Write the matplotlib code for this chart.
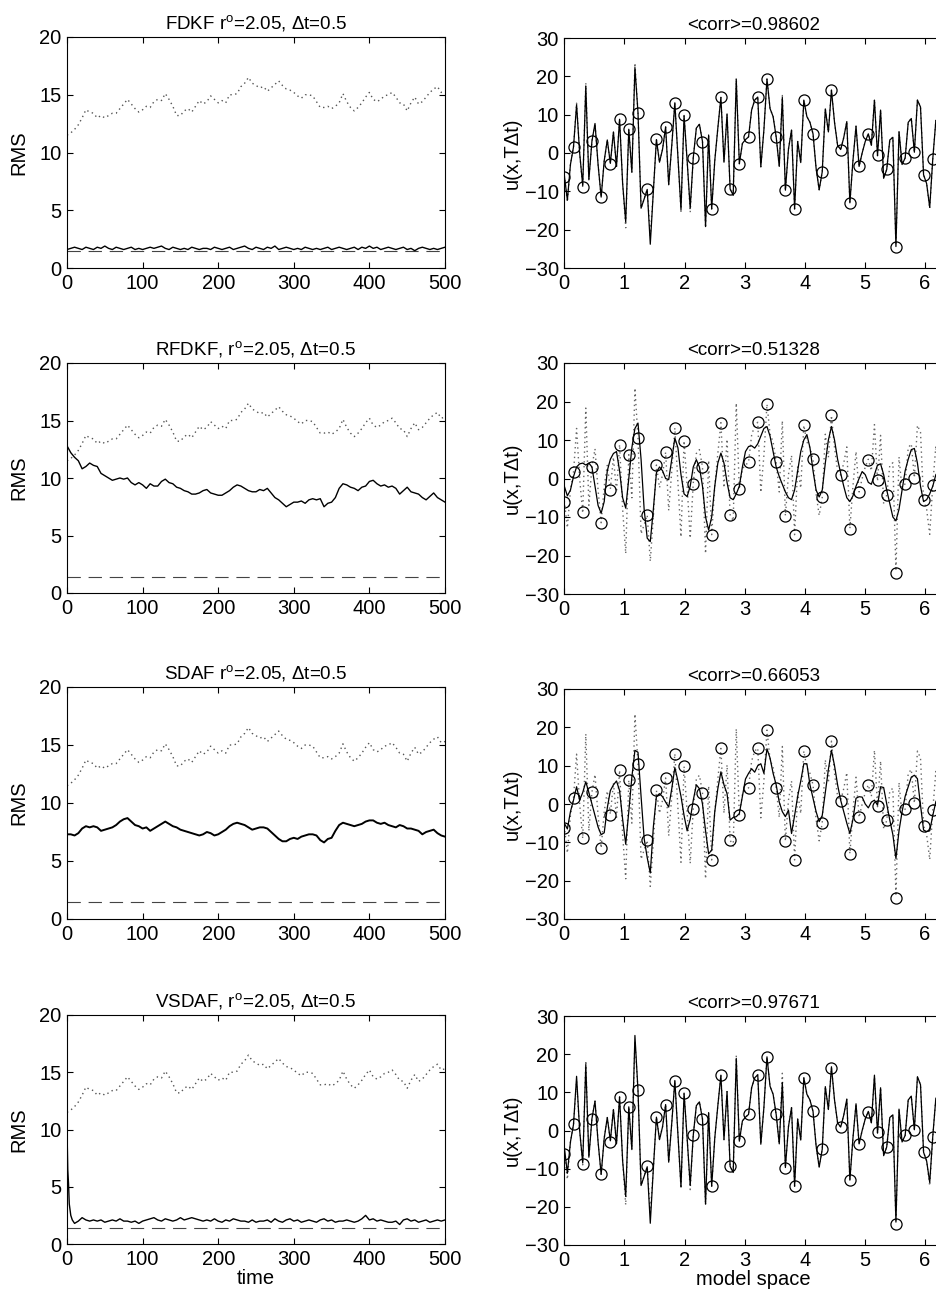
import numpy as np
import matplotlib
matplotlib.use('Agg')
import matplotlib.pyplot as plt

plt.rcParams['font.family'] = ['Liberation Sans', 'DejaVu Sans']
plt.rcParams['mathtext.fontset'] = 'custom'
plt.rcParams['mathtext.rm'] = 'Liberation Sans'
plt.rcParams['mathtext.it'] = 'Liberation Sans'

# ---- left column: RMS error vs time ----
t = np.arange(0, 501, 5)

clim = [11.5, 11.7, 12.0, 12.4, 13.0, 13.7, 13.5, 13.4, 13.0, 13.2,
        13.0, 13.2, 13.4, 13.4, 13.8, 14.2, 14.6, 14.2, 13.8, 13.5,
        13.7, 14.0, 13.9, 14.4, 14.6, 14.5, 15.1, 14.6, 14.0, 13.2,
        13.2, 13.6, 13.8, 13.5, 14.0, 14.5, 14.2, 14.4, 14.9, 14.6,
        14.3, 14.5, 14.3, 15.0, 15.0, 15.1, 15.7, 16.0, 16.5, 16.0,
        15.8, 15.6, 15.7, 15.3, 15.6, 15.9, 16.2, 15.8, 15.5, 15.4,
        15.2, 14.9, 14.7, 15.0, 15.0, 14.9, 14.4, 13.9, 13.9, 14.0,
        13.8, 14.0, 14.3, 15.1, 14.4, 13.9, 13.6, 13.9, 14.3, 14.8,
        15.2, 14.6, 14.4, 14.6, 14.9, 15.0, 15.2, 14.8, 14.3, 14.2,
        13.6, 14.3, 14.8, 14.2, 14.4, 14.8, 15.2, 15.5, 15.7, 15.2,
        15.3]

fdkf = [1.6, 1.7, 1.8, 1.7, 1.6, 1.8, 1.7, 1.6, 1.8, 1.7,
        1.9, 1.7, 1.6, 1.8, 1.7, 1.6, 1.7, 1.8, 1.6, 1.7,
        1.6, 1.7, 1.8, 1.7, 1.8, 1.9, 1.7, 1.6, 1.8, 1.7,
        1.6, 1.7, 1.6, 1.8, 1.7, 1.6, 1.7, 1.7, 1.6, 1.8,
        1.7, 1.6, 1.7, 1.8, 1.6, 1.7, 1.8, 1.9, 1.7, 1.6,
        1.8, 1.7, 1.6, 1.8, 1.7, 1.9, 1.6, 1.7, 1.8, 1.7,
        1.6, 1.7, 1.6, 1.8, 1.7, 1.6, 1.7, 1.6, 1.7, 1.8,
        1.6, 1.7, 1.8, 1.7, 1.6, 1.7, 1.8, 1.6, 1.8, 1.7,
        1.9, 1.7, 1.8, 1.6, 1.7, 1.8, 1.7, 1.6, 1.7, 1.8,
        1.6, 1.7, 1.5, 1.7, 1.8, 1.7, 1.6, 1.7, 1.6, 1.7,
        1.8]

rfdkf = [12.8, 12.2, 11.8, 11.5, 10.8, 11.0, 11.3, 11.1, 11.0, 10.4,
         10.2, 10.0, 9.8, 9.9, 10.0, 9.9, 10.0, 9.6, 9.4, 9.6,
         9.4, 9.1, 9.5, 9.3, 9.3, 9.7, 9.9, 9.6, 9.5, 9.2,
         9.1, 8.9, 8.8, 8.6, 8.6, 8.7, 8.9, 9.0, 8.7, 8.6,
         8.5, 8.5, 8.7, 8.9, 9.2, 9.4, 9.3, 9.1, 8.9, 8.8,
         8.8, 9.0, 8.9, 9.1, 8.7, 8.3, 8.1, 7.8, 7.5, 7.7,
         7.9, 7.9, 8.0, 7.8, 8.1, 8.2, 8.1, 8.2, 7.5, 7.8,
         7.9, 8.3, 9.1, 9.5, 9.4, 9.2, 9.1, 8.9, 9.2, 9.3,
         9.7, 9.8, 9.5, 9.3, 9.4, 9.2, 9.3, 9.1, 8.6, 8.9,
         9.2, 8.8, 8.7, 8.6, 8.3, 8.1, 8.4, 8.7, 8.3, 8.1,
         7.9]

sdaf = [7.3, 7.3, 7.2, 7.4, 7.8, 8.0, 7.9, 8.0, 7.9, 7.6,
        7.7, 7.8, 7.9, 8.1, 8.4, 8.6, 8.7, 8.4, 8.1, 8.0,
        7.8, 7.9, 7.6, 7.8, 8.0, 8.2, 8.4, 8.2, 8.0, 7.9,
        7.7, 7.6, 7.5, 7.4, 7.3, 7.2, 7.3, 7.5, 7.4, 7.2,
        7.3, 7.5, 7.7, 8.0, 8.2, 8.3, 8.2, 8.1, 7.9, 7.7,
        7.8, 7.9, 7.9, 7.8, 7.5, 7.2, 6.9, 6.7, 6.7, 6.9,
        7.0, 6.9, 7.1, 7.2, 7.3, 7.3, 7.2, 6.8, 6.6, 6.9,
        7.0, 7.6, 8.1, 8.3, 8.2, 8.1, 8.0, 8.1, 8.2, 8.4,
        8.5, 8.5, 8.3, 8.2, 8.3, 8.1, 8.0, 7.9, 8.1, 8.0,
        7.8, 7.8, 7.7, 7.6, 7.3, 7.5, 7.6, 7.7, 7.4, 7.2,
        7.1]

t_vsdaf = [0, 1, 2, 3, 5, 7, 10] + list(range(15, 501, 5))
vsdaf = [10.0, 6.5, 5.3, 3.5, 2.5, 2.1, 1.8,
         2.0, 2.3, 2.1, 2.0, 2.1, 2.0, 2.1, 1.9, 2.0, 2.1,
         2.0, 2.2, 2.0, 2.0, 1.9, 2.0, 1.8, 2.0, 2.1, 2.2,
         2.3, 2.1, 2.0, 2.2, 2.1, 2.0, 2.1, 2.3, 2.1, 2.2,
         2.3, 2.2, 2.1, 2.0, 2.1, 2.0, 2.2, 2.0, 1.9, 2.1,
         2.0, 2.2, 2.1, 2.0, 2.0, 1.9, 2.1, 1.9, 2.0, 2.0,
         2.1, 1.9, 2.2, 2.0, 1.9, 2.1, 2.2, 2.0, 2.1, 1.9,
         2.0, 2.1, 2.0, 1.9, 2.1, 2.2, 2.0, 2.1, 1.9, 2.0,
         2.0, 2.1, 2.0, 1.9, 2.0, 2.2, 2.5, 2.1, 2.2, 2.0,
         2.1, 2.0, 1.9, 1.9, 2.0, 1.7, 2.1, 2.2, 2.0, 2.1,
         1.9, 2.0, 2.1, 1.9, 2.0, 2.1, 2.0, 2.1]

obs_rms = 1.43

# ---- right column: snapshot at final time ----
truth = [-5.8, -12.8, -3, 1.6, 13, 0, -9, 18.3, -7, 3.1,
         7.7, -3, -11.5, -2, 3.4, -2.7, 5.5, -3.5, 8.8, -8,
         -19.5, 6.2, -5, 23.5, 10.5, -14.4, -12, -9.5, -21.5, -10,
         3.5, -2.4, 1, 6.8, -8.3, 2, 13.1, -1, -15.2, 9.8,
         -2, -15.5, -1.2, 6.5, 7.5, 3, -19.5, 4.7, -14.6, -2,
         6.5, 14.5, -2.4, 10.2, -9.4, -11, 19.6, -2.8, 2.5, 3.5,
         4.2, 11.2, 13.8, 14.6, -3.6, 6, 19.3, 11.6, 9.5, 4.2,
         -3.5, 15, -9.7, 1, 6, -14.6, 3, -2.5, 13.8, 9.5,
         8, 5, -4, -9.6, -4.9, 11.5, 5.5, 16.4, 8, 2,
         0.9, 4, 8.2, -13, -2, 7, -3.5, 0, 3, 5,
         2, 14, -0.7, 11.2, -6.6, -4.3, 3.4, 4.1, -24, 5.6,
         -3, -1.3, 8, 9, 0.2, 13.8, 12, -5.7, -8, -14.5,
         -1.5, 8.5, 1]

mean_fdkf = [-5.8, -12.3, -3, 1.6, 12.6, 0, -8.5, 17.5, -7, 3.1,
             7.7, -3, -11.5, -2, 3.4, -2.7, 5.5, -3.5, 8.8, -8,
             -18, 6.2, -5, 22.3, 10.5, -14.4, -12, -9.5, -23.8, -10,
             3.5, -2.4, 1, 6.8, -8.3, 2, 13.1, -1, -14.8, 9.8,
             -2, -14.4, -1.2, 6.5, 7.5, 3, -19.2, 4.7, -14.6, -2,
             6.5, 14.5, -2.4, 10.2, -9.4, -11, 19.2, -2.8, 2.5, 3.5,
             4.2, 11.2, 13.8, 14.6, -3.6, 6, 19.3, 11.6, 9.5, 4.2,
             -3.5, 14.5, -9.7, 1, 6, -14.6, 3, -2.5, 13.8, 9.5,
             8, 5, -4, -9.6, -4.9, 11.5, 5.5, 16.4, 8, 2,
             0.9, 4, 8.2, -13, -2, 7, -3.5, 0, 3, 5,
             2, 13.8, -0.7, 11.2, -6.6, -4.3, 3.4, 4.1, -24.4, 5.6,
             -3, -1.3, 8, 9, 0.2, 13.8, 12, -5.7, -8, -14.2,
             -1.5, 8.5, 1]

mean_rfdkf = [-2, -4.5, -3, 0.5, 3, 3.8, 4, 3.5, 4, 3,
              -2, -7, -9, -6, 2, 5, 6.5, 7, 2, -5,
              -7.7, 0, 8, 13, 14.4, 5, -8, -15.5, -16.4, -8,
              1.5, 3, 2, 0, -0.3, 5, 10.5, 8, 1, -4,
              -4.7, -2, 3, 4.9, 3, -2, -10, -13.4, -10, -2,
              4, 6.6, 4, -1, -5, -5.5, -4, -2, 3, 7,
              8.3, 8.5, 7.9, 9, 11, 13, 13.5, 11, 7, 3,
              0.5, -1.5, -3.5, -5, -5.5, -3, 2, 7, 10, 11.4,
              8, 2, -3, -4.8, -3, 4, 10, 13.5, 10, 5,
              1.4, -2, -5, -6, -4.5, -2, 0, 1.8, 1, -1,
              -1.5, 1, 3.5, 3.8, 1, -3, -6.5, -10, -11, -8,
              -3, 2, 5, 7.5, 7.8, 4, -2, -6, -5.5, -4,
              -2, 1, 2]

mean_sdaf = [-5, -6.5, -2, 1, 4.5, 1, 3, 5.8, 3, 0,
             -3, -6, -8, -7.5, -1, 3.5, 5, 6, 3.5, -4,
             -10.5, -2, 7, 14, 13.5, 2, -9, -14, -18, -6,
             2, 2.7, 1.9, 0.5, -0.8, 4, 9.5, 6, 2, -3,
             -7, -4, 1, 5, 4, 0, -7, -13, -12, -2,
             4, 8.4, 5, 2.7, -4.2, -3.5, -3.3, -2.5, 2, 6.5,
             8, 9.2, 8.3, 10, 10.5, 8, 14.4, 12, 8, 5,
             0.5, -2, -3.3, -1.6, -7.7, -3, 2, 6, 10.5, 10.5,
             5, 1.5, -2, -4.6, -3, 3, 9, 14, 10, 5,
             1, -2, -5, -7.7, -4, 1.5, 1.9, 1.8, 0, -1,
             0.5, 1, -0.3, 4.5, 4.3, 0, -4.2, -8, -14.2, -7,
             -2, 2, 4.5, 7, 7.5, 6.6, -0.3, -6.8, -7.2, -7,
             -3, 0.6, 2]

mean_vsdaf = [-4.3, -11.2, -3, 1.6, 14.2, 0, -8.5, 17.3, -7, 3.1,
              7.7, -3, -11.5, -2, 3.4, -2.7, 5.5, -3.5, 8.8, -8,
              -17.3, 6.2, -5, 24.9, 10.5, -14.4, -12, -9.5, -24.3, -10,
              3.5, -2.4, 1, 6.8, -8.3, 2, 13.1, -1, -14.8, 9.8,
              -2, -14.4, -1.2, 6.5, 7.5, 3, -19.3, 4.7, -14.6, -2,
              6.5, 14.5, -2.4, 10.2, -9.4, -11, 18.9, -2.8, 2.5, 3.5,
              4.2, 11.2, 13.8, 14.6, -3.6, 6, 19.3, 11.6, 9.5, 4.2,
              -3.5, 12.6, -9.7, 1, 6, -14.6, 3, -2.5, 13.8, 9.5,
              8, 5, -4, -9.6, -4.9, 11.5, 5.5, 16.7, 8, 2,
              0.9, 4, 8.2, -13, -2, 7, -3.5, 0, 3, 5,
              2, 14.5, -0.7, 11.2, -6.6, -4.3, 3.4, 4.1, -24, 5.6,
              -3, -1.3, 8, 9, 0.2, 14.1, 12, -5.7, -8, -13.6,
              -1.5, 8.5, 1]

obs = [-6.2, 1.6, -8.8, 3.1, -11.5, -2.9, 8.8, 6.2, 10.5, -9.4,
       3.6, 6.8, 13.1, 9.8, -1.3, 3.0, -14.6, 14.5, -9.4, -2.8,
       4.2, 14.6, 19.3, 4.2, -9.7, -14.6, 13.8, 5.0, -4.9, 16.4,
       0.9, -13.0, -3.5, 4.9, -0.5, -4.3, -24.5, -1.3, 0.2, -5.7,
       -1.6]

left_titles = ['FDKF r$^{\\rm o}$=2.05, \u0394t=0.5',
               'RFDKF, r$^{\\rm o}$=2.05, \u0394t=0.5',
               'SDAF r$^{\\rm o}$=2.05, \u0394t=0.5',
               'VSDAF, r$^{\\rm o}$=2.05, \u0394t=0.5']
right_titles = ['<corr>=0.98602', '<corr>=0.51328', '<corr>=0.66053', '<corr>=0.97671']

left_series = [(t, fdkf), (t, rfdkf), (t, sdaf), (t_vsdaf, vsdaf)]
right_means = [mean_fdkf, mean_rfdkf, mean_sdaf, mean_vsdaf]

x_grid = 2 * np.pi * np.arange(len(truth)) / len(truth)
x_obs = x_grid[::3]

W, H = 937, 1297
fig = plt.figure(figsize=(W / 100, H / 100), dpi=100)

left_rows = [(37, 268), (363, 593), (687, 919), (1015, 1244)]
right_rows = [(38, 268), (363, 594), (689, 919), (1016, 1245)]

dots = (0, (1, 2.5))

for i in range(4):
    top, bot = left_rows[i]
    ax = fig.add_axes([67 / W, 1 - bot / H, (445 - 67) / W, (bot - top) / H])
    ax.plot(t, clim, linestyle=dots, color='#555555', linewidth=1.0)
    ax.axhline(obs_rms, xmin=0, xmax=0.99, color='#444444', linewidth=0.8,
               linestyle=(0, (12, 7)))
    tt, vals = left_series[i]
    lw = 1.4 if i == 2 else 1.0
    ax.plot(tt, vals, color='black', linewidth=lw)
    ax.set_xlim(0, 500)
    ax.set_ylim(0, 20)
    ax.set_xticks([0, 100, 200, 300, 400, 500])
    ax.set_yticks([0, 5, 10, 15, 20])
    ax.set_ylabel('RMS', fontsize=14.5, labelpad=8)
    ax.set_title(left_titles[i], fontsize=13.5, pad=6)
    ax.tick_params(direction='in', top=True, right=True, labelsize=14.5, length=4, pad=4)
    if i == 3:
        ax.set_xlabel('time', fontsize=14.5, labelpad=0)

    top, bot = right_rows[i]
    ax = fig.add_axes([564.3 / W, 1 - bot / H, (942 - 564.3) / W, (bot - top) / H])
    ax.plot(x_grid, truth, linestyle=dots, color='#666666', linewidth=1.0)
    ax.plot(x_grid, right_means[i], color='black', linewidth=0.9)
    ax.plot(x_obs, obs, 'o', markersize=8, markerfacecolor='none',
            markeredgecolor='black', markeredgewidth=0.9)
    ax.set_xlim(0, 2 * np.pi)
    ax.set_ylim(-30, 30)
    ax.set_xticks([0, 1, 2, 3, 4, 5, 6])
    ax.set_yticks([-30, -20, -10, 0, 10, 20, 30])
    ax.set_yticklabels(['\u221230', '\u221220', '\u221210', '0', '10', '20', '30'])
    ax.set_ylabel('u(x,T\u0394t)', fontsize=14.5, labelpad=2)
    ax.set_title(right_titles[i], fontsize=13.5, pad=6)
    ax.tick_params(direction='in', top=True, right=True, labelsize=14.5, length=4, pad=4)
    if i == 3:
        ax.set_xlabel('model space', fontsize=14.5, labelpad=0)

fig.savefig('out.png', dpi=100)
